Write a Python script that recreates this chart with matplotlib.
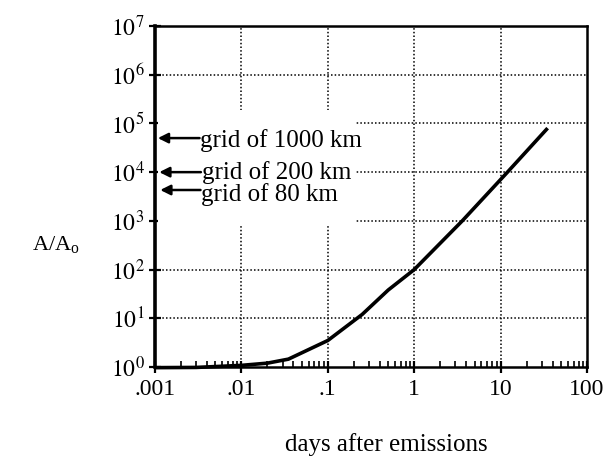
import numpy as np
import matplotlib
matplotlib.use("Agg")
import matplotlib.pyplot as plt
from matplotlib.patches import Rectangle
from matplotlib.ticker import FixedLocator, LogLocator, NullFormatter

plt.rcParams['font.family'] = ['Liberation Serif', 'DejaVu Serif']
plt.rcParams['mathtext.fontset'] = 'stix'

# growth of plume area vs. time
days = [0.001, 0.003, 0.01, 0.02, 0.035, 0.1, 0.25, 0.5, 1, 3.6, 12, 35]
ratio = [0.97, 0.98, 1.08, 1.2, 1.45, 3.5, 12, 38, 100, 1000, 10000, 80000]

# model grid sizes and the area ratio they resolve
grid_labels = ["grid of 1000 km", "grid of 200 km", "grid of 80 km"]
grid_ratio = [5e4, 1.0e4, 4.3e3]

xticks = [0.001, 0.01, 0.1, 1, 10, 100]
xticklabels = [".001", ".01", ".1", "1", "10", "100"]
yticks = [10.0**k for k in range(8)]
yticklabels = [r"$10^{%d}$" % k for k in range(8)]

fig = plt.figure(figsize=(6.04, 4.61), dpi=100)
ax = fig.add_axes([0.2566, 0.2039, 0.7153, 0.7397])
ax.set_xscale('log')
ax.set_yscale('log')
ax.set_xlim(0.001, 100)
ax.set_ylim(1, 1e7)

ax.plot(days, ratio, color='black', lw=2.6, clip_on=False, zorder=5,
        solid_capstyle='butt')

# dotted grid
for x in xticks[1:-1]:
    ax.axvline(x, color='black', lw=1.1, ls=(0, (1, 1.4)), zorder=1)
for y in yticks[1:-1]:
    ax.axhline(y, color='black', lw=1.1, ls=(0, (1, 1.4)), zorder=1)

# blank area behind the grid labels
ax.add_patch(Rectangle((0.006, 0.415), 0.459, 0.34, transform=ax.transAxes,
                       facecolor='white', edgecolor='none', zorder=2))

# arrow start (x offset) and text nudge, in points
arrow_tail = [30, 30, 29]
text_dy = [-2, 0, -3]
tips = [0.00108, 0.00112, 0.00115]
for lab, r, tip, dx, dy in zip(grid_labels, grid_ratio, tips, arrow_tail, text_dy):
    ax.annotate("", xy=(tip, r), xytext=(dx, 0), textcoords='offset points',
                arrowprops=dict(arrowstyle='-|>', color='black', lw=1.8,
                                mutation_scale=15, shrinkA=0, shrinkB=0),
                zorder=6)
    ax.annotate(lab, xy=(tip, r), xytext=(dx + 0.5, dy),
                textcoords='offset points', fontsize=18, va='center',
                ha='left', zorder=6)

ax.xaxis.set_major_locator(FixedLocator(xticks))
ax.set_xticklabels(xticklabels)
ax.yaxis.set_major_locator(FixedLocator(yticks))
ax.set_yticklabels(yticklabels)
ax.xaxis.set_minor_locator(LogLocator(base=10, subs=np.arange(2, 10)))
ax.yaxis.set_minor_locator(LogLocator(base=10, subs=np.arange(2, 10)))
ax.xaxis.set_minor_formatter(NullFormatter())
ax.yaxis.set_minor_formatter(NullFormatter())

ax.tick_params(which='major', direction='inout', length=9, width=1.6,
               labelsize=17, pad=3)
ax.tick_params(which='minor', direction='in', length=4, width=1.2)
ax.tick_params(axis='x', which='major', pad=4)

for s in ax.spines.values():
    s.set_linewidth(1.8)
ax.spines['left'].set_linewidth(2.6)

ax.set_xlabel("days after emissions", fontsize=18, labelpad=0)
ax.xaxis.set_label_coords(0.535, -0.195)
ax.text(-0.23, 0.36, r"A/A$_\mathregular{o}$", transform=ax.transAxes,
        fontsize=16, ha='center', va='center')

fig.savefig("out.png", dpi=100)
